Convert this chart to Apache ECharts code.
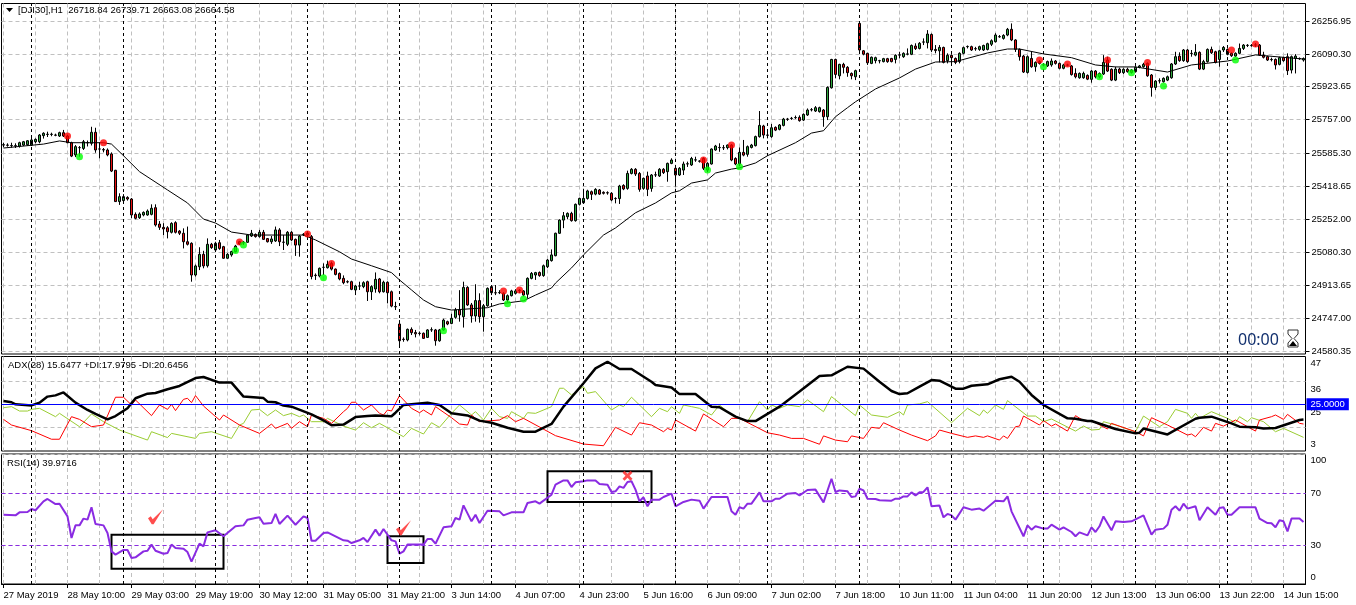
<!DOCTYPE html>
<html><head><meta charset="utf-8">
<style>html,body{margin:0;padding:0;background:#fff}#c{width:1356px;height:605px}</style>
<script src="https://cdn.jsdelivr.net/npm/echarts@6/dist/echarts.min.js"></script>
</head><body><div id="c"></div>
<script>
const tickLabels=['27 May 2019','28 May 10:00','29 May 03:00','29 May 19:00','30 May 12:00','31 May 05:00','31 May 21:00','3 Jun 14:00','4 Jun 07:00','4 Jun 23:00','5 Jun 16:00','6 Jun 09:00','7 Jun 02:00','7 Jun 18:00','10 Jun 11:00','11 Jun 04:00','11 Jun 20:00','12 Jun 13:00','13 Jun 06:00','13 Jun 22:00','14 Jun 15:00'];
const priceTicks=[26256.95,26090.30,25923.65,25757.00,25585.30,25418.65,25252.00,25080.30,24913.65,24747.00,24580.35];
const adxTicks=[47,36,25,14,3];
const rsiTicks=[100,70,30,0];
const daySeparators=[7,30,53,76,99,122,145,168,191,214,237,260,283,306];
// open, close, low, high
const candles=[
[25627,25629,25616,25639],[25627,25626,25619,25636],[25624,25625,25614,25639],[25622,25624,25612,25636],[25622,25639,25614,25644],[25627,25644,25622,25648],[25629,25649,25624,25652],[25627,25653,25622,25678],[25644,25656,25636,25661],[25644,25678,25636,25683],
[25675,25687,25660,25692],[25681,25682,25668,25695],[25681,25682,25672,25690],[25678,25677,25672,25685],[25673,25690,25668,25695],[25690,25673,25668,25704],[25673,25639,25636,25680],[25639,25571,25566,25644],[25577,25619,25566,25627],[25614,25614,25568,25622],
[25610,25644,25602,25653],[25638,25640,25620,25650],[25636,25692,25625,25720],[25692,25602,25588,25715],[25607,25607,25560,25640],[25604,25602,25590,25612],[25602,25577,25570,25610],[25582,25495,25490,25590],[25499,25340,25338,25501],[25340,25365,25323,25382],
[25345,25365,25338,25378],[25361,25353,25345,25367],[25353,25272,25255,25358],[25275,25255,25250,25285],[25258,25277,25252,25285],[25272,25285,25265,25290],[25272,25292,25268,25300],[25275,25306,25270,25326],[25309,25221,25213,25326],[25226,25209,25196,25241],
[25209,25201,25170,25230],[25207,25187,25153,25215],[25184,25229,25178,25235],[25233,25184,25178,25240],[25190,25179,25170,25195],[25179,25136,25102,25204],[25136,25123,25117,25213],[25128,24967,24933,25133],[24967,25013,24959,25020],[25009,25072,24992,25108],
[25072,25013,25001,25090],[25014,25123,25005,25153],[25123,25106,25100,25130],[25094,25128,25086,25136],[25131,25102,25095,25145],[25111,25052,25050,25115],[25052,25072,25050,25078],[25069,25086,25060,25090],[25086,25114,25082,25120],[25125,25136,25120,25140],
[25130,25133,25120,25140],[25133,25170,25130,25175],[25165,25179,25160,25196],[25173,25162,25157,25178],[25162,25184,25157,25196],[25184,25148,25145,25196],[25152,25136,25132,25155],[25136,25150,25125,25165],[25140,25196,25135,25213],[25196,25136,25114,25205],
[25134,25133,25094,25170],[25123,25184,25114,25190],[25184,25145,25140,25190],[25148,25119,25064,25152],[25119,25165,25060,25170],[25172,25174,25165,25180],[25170,25180,25165,25185],[25162,24959,24945,25170],[24966,24964,24942,24975],[24962,25001,24955,25005],
[25006,25006,24967,25026],[25004,25021,25000,25040],[25026,24997,24990,25035],[24997,24970,24965,25000],[24975,24947,24940,24980],
[24950,24928,24920,24965],[24933,24932,24925,24940],[24933,24894,24890,24938],[24891,24911,24865,24916],[24911,24911,24891,24933],[24908,24928,24900,24935],[24933,24882,24835,24938],[24882,24908,24840,24915],[24896,24945,24877,24980],[24947,24882,24874,24952],
[24882,24930,24878,24938],[24930,24877,24823,24935],[24882,24809,24803,24888],[24807,24805,24789,24831],[24718,24633,24603,24738],[24641,24639,24628,24650],[24637,24691,24630,24695],[24691,24674,24662,24701],[24675,24668,24650,24688],[24671,24670,24660,24680],
[24671,24645,24642,24675],[24650,24688,24647,24692],[24688,24689,24678,24701],[24688,24633,24608,24693],[24633,24688,24628,24693],[24688,24738,24684,24745],[24730,24718,24712,24735],[24721,24747,24717,24770],[24752,24789,24745,24800],[24789,24764,24730,24890],
[24755,24904,24700,24933],[24904,24815,24810,24910],[24815,24759,24725,24825],[24759,24837,24730,24920],[24837,24755,24725,24874],[24755,24811,24679,24820],[24811,24899,24806,24904],[24908,24877,24865,24916],[24877,24876,24865,24916],[24877,24878,24870,24890],
[24874,24840,24835,24880],[24840,24862,24830,24868],[24862,24886,24858,24892],[24874,24886,24868,24895],[24888,24890,24875,24895],[24886,24865,24858,24890],[24869,24950,24848,24955],[24950,24975,24945,24982],[24967,24979,24942,24983],[24980,24964,24958,24985],
[24964,25014,24958,25020],[25009,25043,25002,25048],[25040,25069,25035,25097],[25065,25179,25062,25182],[25179,25246,25176,25250],[25246,25268,25205,25287],[25263,25280,25250,25285],[25280,25243,25238,25288],[25243,25326,25238,25330],[25326,25356,25320,25360],
[25334,25356,25328,25405],[25356,25394,25350,25400],[25390,25377,25348,25396],[25378,25402,25372,25408],[25399,25378,25374,25404],[25387,25382,25376,25392],[25385,25384,25375,25392],[25382,25348,25342,25388],[25356,25355,25331,25362],[25355,25419,25328,25425],
[25422,25404,25398,25428],[25407,25483,25400,25497],[25483,25504,25478,25510],[25504,25480,25470,25510],[25483,25402,25390,25490],[25407,25458,25400,25462],[25470,25402,25368,25492],[25407,25475,25390,25480],[25475,25476,25465,25492],[25470,25504,25465,25510],
[25504,25487,25480,25510],[25492,25534,25441,25538],[25534,25551,25530,25560],[25509,25475,25416,25515],[25475,25509,25470,25515],
[25500,25531,25475,25543],[25531,25532,25516,25543],[25526,25559,25521,25567],[25551,25552,25542,25568],[25546,25545,25538,25550],[25559,25509,25500,25565],[25500,25534,25490,25540],[25531,25607,25528,25610],[25602,25622,25598,25628],[25614,25615,25593,25636],
[25614,25613,25602,25627],[25614,25627,25605,25630],[25627,25551,25545,25632],[25559,25531,25525,25565],[25531,25590,25520,25615],[25590,25576,25570,25653],[25580,25619,25568,25625],[25615,25627,25610,25633],[25624,25670,25620,25675],[25670,25727,25665,25800],
[25724,25678,25661,25730],[25678,25677,25661,25695],[25670,25715,25664,25734],[25717,25703,25698,25722],[25707,25729,25702,25734],[25727,25759,25722,25765],[25759,25758,25750,25765],[25763,25762,25755,25770],[25766,25767,25760,25777],[25768,25751,25746,25778],
[25754,25783,25749,25788],[25780,25805,25775,25813],[25807,25806,25798,25815],[25800,25817,25795,25825],[25797,25817,25792,25822],[25805,25771,25720,25810],[25771,25920,25754,25925],[25918,26062,25914,26065],[26062,25986,25966,26066],[25979,26037,25961,26040],
[26037,26022,25991,26045],[26022,25995,25974,26028],[25991,25979,25961,25996],[25974,26005,25957,26010],[26245,26110,26100,26249],[26106,26089,26083,26110],[26093,26045,26034,26096],[26042,26073,26038,26077],[26056,26071,26042,26076],[26056,26055,26042,26060],
[26051,26066,26047,26070],[26066,26051,26045,26070],[26067,26051,26047,26070],[26062,26083,26042,26088],[26084,26085,26067,26101],[26076,26093,26070,26098],[26089,26090,26083,26118],[26088,26133,26084,26138],[26130,26117,26110,26144],[26118,26144,26113,26150],
[26150,26151,26135,26169],[26147,26191,26118,26211],[26189,26110,26100,26194],[26113,26107,26093,26135],[26106,26123,26047,26135],[26123,26047,26042,26127],[26056,26083,26042,26093],[26083,26071,26042,26088],[26067,26047,26038,26072],[26051,26093,26042,26098],
[26093,26122,26088,26127],[26127,26128,26118,26133],[26127,26110,26105,26132],[26117,26116,26106,26126],[26113,26127,26106,26132],[26110,26133,26105,26137],[26113,26142,26108,26147],[26139,26157,26130,26164],[26152,26186,26148,26195],[26177,26178,26172,26186],
[26169,26184,26163,26190],[26186,26215,26180,26222],[26215,26161,26155,26245],[26161,26113,26100,26165],[26113,26076,26056,26118],
[26079,25998,25993,26085],[25996,26076,25990,26082],[26067,26025,26020,26101],[26025,26047,26000,26052],[26051,26042,26036,26058],[26034,26035,26027,26042],[26029,26051,26024,26056],[26034,26054,26025,26067],[26054,26042,26036,26059],[26042,26017,26012,26046],
[26017,26034,26012,26040],[26034,26033,26027,26040],[26029,25985,25980,26034],[25991,25974,25966,26017],[25969,25991,25964,25996],[25969,25991,25964,26000],[25981,25962,25957,25986],[25961,26003,25944,26008],[26003,25974,25966,26008],[25974,25991,25966,25996],
[25988,26047,25983,26084],[26059,26003,25998,26076],[26012,25957,25952,26017],[25957,26013,25952,26025],[26013,25995,25988,26020],[25995,26012,25988,26017],[26012,26000,25995,26020],[26008,25996,25990,26013],[26000,26022,25995,26027],[26022,26029,26017,26034],
[26025,26037,26020,26045],[26042,25979,25974,26047],[25983,25920,25873,25988],[25920,25952,25907,25957],[25954,25953,25940,25966],[25949,25966,25944,25971],[25957,25974,25952,25980],[25969,26039,25964,26044],[26039,26076,26034,26101],[26079,26056,26050,26098],
[26056,26110,26050,26115],[26110,26051,26045,26115],[26093,26092,26076,26110],[26084,26098,26078,26140],[26098,26013,26008,26103],[26013,26051,26008,26060],[26051,26113,26046,26118],[26113,26096,26090,26127],[26101,26047,26042,26106],[26062,26106,26025,26111],
[26110,26123,26100,26130],[26113,26088,26083,26118],[26093,26081,26075,26098],[26079,26093,26074,26098],[26093,26118,26088,26143],[26118,26135,26110,26140],[26133,26134,26125,26140],[26133,26132,26127,26140],[26135,26136,26125,26145],[26135,26084,26080,26140],
[26084,26073,26067,26101],[26076,26059,26054,26081],[26062,26061,26052,26071],[26062,26034,26011,26067],[26037,26071,26032,26076],[26071,26056,26050,26076],[26076,26005,25983,26093],[26008,26076,25991,26082],[26067,26079,25991,26089],[26067,26066,26060,26072],
[26059,26067,26051,26072]];
// [bar index, value]
const maPoints=[[0,25612],[10,25632],[14,25648],[17,25639],[25,25639],[27,25632],[30,25573],[34,25492],[41,25399],[46,25333],[50,25251],[53,25231],[57,25185],[62,25170],[75,25170],[78,25145],[84,25085],[87,25048],[92,25014],[97,24979],[99,24942],[102,24891],[105,24840],[108,24806],[112,24789],[121,24801],[124,24820],[130,24836],[133,24865],[137,24901],[138,24926],[142,25003],[145,25069],[150,25170],[153,25206],[158,25283],[163,25333],[167,25384],[169,25395],[172,25434],[176,25450],[178,25485],[182,25505],[184,25511],[188,25536],[191,25573],[198,25639],[202,25688],[205,25700],[208,25771],[211,25817],[213,25847],[218,25912],[224,25968],[228,26013],[233,26049],[238,26051],[246,26095],[251,26115],[254,26115],[260,26090],[267,26071],[273,26034],[278,26024],[283,26024],[291,25998],[297,26034],[306,26054],[313,26085],[325,26064]];
const adxPoints=[[0,26.6],[2,26.0],[3,25.0],[7,24.5],[9,25.8],[11,28.7],[13,29.3],[15,30.7],[18,25.8],[21,22.3],[23,20.4],[26,17.8],[28,19.4],[31,23.1],[33,27.9],[36,30.1],[38,30.4],[41,32.2],[44,33.8],[48,37.6],[50,38.1],[54,35.4],[57,35.4],[60,28.7],[65,28.0],[66,26.3],[68,26.0],[70,24.4],[72,23.9],[77,20.2],[80,17.3],[82,15.0],[85,15.3],[88,18.9],[91,19.4],[93,19.7],[97,19.3],[98,21.0],[100,24.7],[106,25.8],[109,24.7],[112,20.7],[116,19.7],[119,17.2],[122,16.2],[126,13.8],[130,11.9],[133,11.9],[137,15.6],[140,23.9],[145,35.1],[148,42.2],[151,45.4],[154,41.9],[157,41.9],[162,35.8],[163,34.3],[167,33.1],[169,29.9],[173,29.9],[177,23.9],[179,23.6],[183,19.1],[186,17.0],[188,17.0],[194,23.9],[199,31.1],[204,38.6],[207,38.9],[211,43.0],[215,42.1],[219,35.8],[222,31.4],[224,29.9],[226,30.3],[229,33.5],[232,36.6],[234,36.3],[238,32.5],[240,32.5],[242,33.9],[246,34.6],[249,37.0],[252,38.2],[254,35.8],[257,29.5],[260,24.7],[266,18.3],[268,18.1],[271,17.0],[272,17.0],[278,13.2],[283,11.1],[284,11.4],[285,13.4],[291,10.6],[298,18.1],[299,18.6],[302,19.1],[307,15.9],[309,14.3],[313,14.0],[315,13.4],[318,13.7],[324,17.5],[325,17.7]];
const plusDiPoints=[[0,23.4],[2,23.9],[4,21.8],[6,21.8],[7,22.6],[9,23.1],[13,19.1],[14,20.7],[19,14.3],[22,20.4],[25,16.7],[29,12.7],[36,7.9],[37,11.9],[41,9.1],[42,11.1],[48,8.7],[49,11.1],[52,11.9],[57,8.7],[59,15.1],[60,15.9],[62,22.3],[64,22.6],[66,19.6],[68,22.3],[70,19.6],[72,20.7],[74,19.1],[75,19.9],[77,16.7],[80,16.7],[81,18.3],[85,14.6],[88,12.7],[90,16.2],[92,13.8],[94,15.9],[100,9.5],[102,13.5],[105,10.8],[107,16.2],[109,14.0],[112,20.7],[114,24.7],[117,19.9],[118,21.5],[120,17.5],[122,23.1],[124,19.1],[126,18.3],[127,21.5],[130,18.3],[131,21.0],[133,20.7],[136,23.1],[137,23.9],[139,32.7],[140,32.7],[142,29.5],[145,33.5],[146,30.3],[148,31.1],[152,22.3],[154,24.7],[155,23.9],[157,28.4],[162,19.1],[164,23.1],[166,21.5],[167,23.9],[169,20.7],[170,24.7],[172,23.9],[174,23.1],[177,19.9],[179,24.7],[182,19.9],[186,16.7],[189,26.3],[191,22.3],[192,24.7],[194,23.1],[196,24.7],[199,23.9],[201,27.1],[205,21.5],[207,28.7],[213,19.6],[214,24.7],[217,19.9],[221,18.8],[224,21.5],[225,19.9],[226,24.7],[229,25.2],[231,26.3],[237,16.2],[241,23.1],[244,19.6],[245,22.3],[246,20.7],[248,24.7],[250,22.6],[251,26.8],[256,19.4],[258,19.4],[260,16.7],[262,18.0],[268,12.2],[270,14.6],[272,12.7],[274,13.0],[275,16.7],[278,15.1],[283,11.9],[285,19.4],[289,14.3],[291,16.7],[293,22.6],[296,20.7],[297,18.3],[298,20.7],[299,18.3],[302,21.5],[306,18.3],[308,16.2],[309,19.1],[311,16.7],[312,18.6],[315,16.7],[318,11.9],[320,13.5],[325,9.2]];
const minusDiPoints=[[0,17.8],[2,15.1],[7,12.4],[12,8.3],[14,8.3],[17,19.1],[19,17.8],[22,14.3],[25,15.1],[28,28.4],[30,28.4],[32,24.7],[33,27.1],[37,19.6],[39,24.7],[41,22.6],[42,25.0],[43,22.0],[45,27.4],[46,27.9],[47,25.8],[48,29.2],[50,24.2],[54,17.5],[55,19.9],[59,15.1],[64,11.1],[67,15.6],[68,13.5],[71,15.9],[72,13.5],[74,16.7],[76,14.3],[77,19.9],[80,18.3],[82,15.9],[85,21.5],[86,23.1],[87,26.0],[88,26.0],[90,22.3],[92,24.7],[94,20.7],[95,19.9],[96,22.3],[97,21.8],[99,29.2],[102,23.1],[104,21.0],[105,22.3],[107,19.9],[108,23.9],[112,18.6],[114,15.6],[116,15.1],[117,19.9],[119,16.7],[124,17.5],[126,19.6],[128,16.7],[130,18.3],[138,10.0],[145,6.0],[150,5.2],[153,14.0],[157,10.3],[159,16.2],[162,15.1],[165,11.9],[166,13.5],[167,12.7],[168,17.5],[173,12.2],[175,20.4],[180,14.3],[182,18.3],[184,18.3],[191,11.4],[194,10.3],[197,8.7],[200,8.7],[204,5.9],[205,9.9],[208,7.9],[211,7.1],[212,9.9],[215,8.7],[217,14.0],[219,13.5],[220,16.2],[224,12.7],[227,10.3],[231,7.6],[233,9.9],[234,12.7],[237,11.1],[241,9.2],[243,9.9],[245,9.2],[246,9.9],[249,7.9],[250,9.9],[251,8.7],[253,14.3],[254,14.6],[255,19.4],[259,15.1],[260,17.2],[262,14.6],[263,15.6],[266,12.2],[268,19.6],[270,17.2],[272,17.2],[276,13.2],[277,15.9],[283,11.9],[285,9.9],[287,18.6],[291,15.1],[296,10.3],[297,10.8],[298,9.5],[300,14.0],[302,12.2],[303,15.9],[305,14.6],[308,17.5],[313,12.2],[314,17.5],[317,19.1],[318,19.9],[320,17.8],[321,20.2],[324,15.9],[325,15.6]];
const rsiPoints=[[0,53.3],[3,52.8],[4,55.1],[6,55.4],[7,57.7],[8,56.7],[10,63.6],[11,65.4],[13,61.5],[14,61.8],[16,52.0],[17,35.4],[18,45.1],[19,45.1],[20,50.3],[21,49.5],[22,59.0],[23,46.2],[25,45.1],[26,39.2],[27,25.1],[28,22.6],[30,26.2],[31,26.2],[32,20.0],[33,20.5],[35,25.1],[36,25.6],[37,30.3],[38,25.6],[40,23.3],[41,23.8],[42,30.3],[43,27.7],[45,27.2],[46,24.6],[47,17.2],[49,31.0],[50,29.0],[51,39.7],[53,41.3],[55,36.7],[58,44.4],[60,45.1],[61,49.5],[63,50.8],[64,51.3],[65,46.4],[67,46.9],[68,53.9],[69,46.2],[71,52.6],[73,45.6],[75,52.0],[76,50.8],[77,33.3],[78,33.3],[80,39.2],[81,39.7],[85,33.6],[86,33.3],[87,31.5],[89,33.6],[90,35.4],[91,32.3],[93,41.8],[94,37.2],[95,42.3],[97,33.6],[98,32.8],[99,23.3],[100,25.1],[101,30.3],[105,30.3],[106,34.6],[107,34.6],[108,31.0],[110,43.6],[112,44.4],[113,50.8],[114,49.5],[115,60.5],[117,48.2],[118,53.3],[119,46.9],[121,56.4],[124,55.9],[125,52.8],[127,55.1],[130,55.1],[131,62.3],[133,63.6],[134,61.8],[137,68.7],[138,76.4],[140,79.7],[141,79.7],[142,74.6],[143,78.2],[145,79.0],[146,79.7],[148,79.7],[149,76.9],[151,76.4],[152,70.8],[153,71.3],[154,75.1],[155,73.9],[156,78.5],[157,79.0],[158,72.6],[159,63.6],[160,66.7],[161,59.8],[162,64.9],[164,64.9],[165,66.9],[167,69.5],[168,59.8],[170,63.1],[172,64.9],[174,64.1],[175,58.0],[177,66.9],[181,66.9],[182,55.9],[183,53.3],[184,59.0],[185,58.0],[186,61.8],[187,61.8],[189,70.5],[190,63.6],[192,63.6],[193,65.6],[194,65.6],[196,69.5],[198,70.0],[199,68.2],[201,72.3],[203,72.6],[205,62.8],[207,81.0],[208,70.8],[209,72.0],[211,71.3],[212,66.9],[213,67.4],[214,73.3],[215,72.0],[216,65.6],[218,65.4],[219,64.4],[222,64.1],[223,65.6],[224,65.6],[225,67.4],[226,67.4],[227,70.5],[228,68.2],[229,70.5],[230,70.8],[231,74.4],[232,59.8],[234,60.3],[235,51.3],[236,53.9],[237,52.8],[238,49.5],[240,59.0],[242,57.2],[244,58.0],[245,56.4],[248,64.1],[250,63.6],[251,67.4],[252,55.9],[255,36.7],[256,45.1],[257,41.8],[258,44.4],[260,42.6],[261,42.6],[262,45.6],[264,41.8],[265,43.6],[267,40.0],[268,36.7],[269,39.7],[271,37.4],[272,43.6],[273,40.0],[274,44.4],[275,52.0],[277,41.3],[278,48.2],[280,47.7],[282,48.2],[285,52.8],[287,37.9],[288,41.8],[290,42.6],[291,45.6],[292,57.2],[293,59.8],[294,56.4],[295,61.8],[296,58.0],[298,59.8],[299,49.0],[301,59.0],[303,53.3],[304,58.5],[305,59.0],[306,53.3],[307,53.3],[309,59.0],[313,59.0],[314,50.3],[316,46.9],[317,46.7],[318,43.6],[319,49.0],[320,48.2],[321,40.5],[322,50.3],[324,50.3],[325,47.7]];
const sellDots=[[16,25673],[25,25639],[59,25135],[76,25175],[82,25025],[125,24886],[129,24891],[175,25551],[182,25627],[259,26059],[266,26039],[276,26059],[286,26047],[307,26110],[313,26140]];
const buyDots=[[19,25568],[58,25091],[60,25119],[80,24953],[110,24684],[126,24821],[130,24845],[176,25500],[184,25517],[260,26025],[274,25974],[282,25995],[290,25927],[308,26059]];
const rsiBoxes=[[27,37.9,55,11.8],[96,36.7,105,16.2],[136,86.7,162,63.1]];
const checkNotes=[[38,51.8],[100,43.3]];
const crossNotes=[[156,83.3]];

const FONT='"Liberation Sans",sans-serif';
const FS=9.5;
const categories=candles.map((_,i)=>i%16===0?tickLabels[i/16]:String(i));
const grayDash={color:'#c0c0c0',type:[4,3],width:1};
const sepLines=daySeparators.map(i=>({xAxis:i,lineStyle:{color:'#000',type:[3,3],width:1},label:{show:false}}));
const LEFT=1.5,WIDTH=1304;
function xAx(idx,labels){return{type:'category',gridIndex:idx,data:categories,boundaryGap:true,
  axisLine:{show:labels,lineStyle:{color:'#000'}},
  axisTick:{show:labels,alignWithLabel:true,length:4,interval:i=>i%16===0,lineStyle:{color:'#000'}},
  axisLabel:{show:labels,interval:0,align:'left',margin:6,fontFamily:FONT,fontSize:FS,color:'#000',formatter:(v,i)=>i%16===0?v:''},
  splitLine:{show:true,alignWithLabel:true,interval:i=>i%8===0,lineStyle:grayDash}};}
const axisText={fontFamily:FONT,fontSize:FS,color:'#000',showMinLabel:true,showMaxLabel:true};
const adxRich={l47:{padding:[9,0,0,0]},l36:{padding:[16,0,0,0]},l25:{padding:[16,0,0,0]},l14:{padding:[16,0,0,0]},l3:{padding:[0,0,12,0]}};
const rsiRich={l100:{padding:[13,0,0,0]},l70:{},l30:{},l0:{padding:[0,0,13,0]}};
const gridBase={left:LEFT,width:WIDTH,show:true,borderColor:'#000',borderWidth:1,outerBoundsMode:'none'};
const option={animation:false,backgroundColor:'#fff',
 grid:[{...gridBase,top:3.5,height:350.5},{...gridBase,top:356.5,height:94.5},{...gridBase,top:454,height:130}],
 xAxis:[xAx(0,false),xAx(1,false),xAx(2,true)],
 yAxis:[
  {type:'value',gridIndex:0,position:'right',min:24565.7,max:26346.2,
   axisLine:{show:false},axisTick:{show:true,length:4,customValues:priceTicks,lineStyle:{color:'#000'}},
   axisLabel:{...axisText,customValues:priceTicks,margin:6,formatter:v=>v.toFixed(2)},splitLine:{show:true,lineStyle:grayDash}},
  {type:'value',gridIndex:1,position:'right',min:2.67,max:47.9,
   axisLine:{show:false},axisTick:{show:false,customValues:[36,14]},
   axisLabel:{...axisText,customValues:adxTicks,margin:5,rich:adxRich,formatter:v=>`{l${v}|${v}}`},splitLine:{show:true,lineStyle:grayDash}},
  {type:'value',gridIndex:2,position:'right',min:0,max:100,
   axisLine:{show:false},axisTick:{show:false,customValues:rsiTicks},
   axisLabel:{...axisText,customValues:rsiTicks,margin:5,rich:rsiRich,formatter:v=>`{l${v}|${v}}`},splitLine:{show:true,lineStyle:grayDash}}],
 series:[
  {type:'candlestick',xAxisIndex:0,yAxisIndex:0,data:candles,barWidth:2,z:3,
   itemStyle:{color:'#2EA83E',color0:'#E81010',borderColor:'#000',borderColor0:'#000',borderWidth:1}},
  {type:'line',xAxisIndex:0,yAxisIndex:0,data:maPoints,showSymbol:false,z:4,lineStyle:{color:'#000',width:1},
   markLine:{silent:true,symbol:'none',animation:false,data:sepLines}},
  {type:'scatter',xAxisIndex:0,yAxisIndex:0,data:sellDots,symbolSize:7,z:5,itemStyle:{color:'#ff0000'}},
  {type:'scatter',xAxisIndex:0,yAxisIndex:0,data:buyDots,symbolSize:7,z:5,itemStyle:{color:'#00ff00'}},
  {type:'line',xAxisIndex:1,yAxisIndex:1,data:plusDiPoints,showSymbol:false,z:3,lineStyle:{color:'#9ACD32',width:1}},
  {type:'line',xAxisIndex:1,yAxisIndex:1,data:minusDiPoints,showSymbol:false,z:3,lineStyle:{color:'#ff0000',width:1}},
  {type:'line',xAxisIndex:1,yAxisIndex:1,data:adxPoints,showSymbol:false,z:4,lineStyle:{color:'#000',width:2.5},
   markLine:{silent:true,symbol:'none',animation:false,data:[...sepLines,
     {yAxis:25,lineStyle:{color:'#0000ff',type:'solid',width:1},
      label:{show:true,position:'end',distance:1,formatter:'25.0000',color:'#fff',backgroundColor:'#0000ff',padding:[1,4,1,4],lineHeight:10,fontFamily:FONT,fontSize:FS}}]}},
  {type:'line',xAxisIndex:2,yAxisIndex:2,data:rsiPoints,showSymbol:false,z:3,lineStyle:{color:'#8A2BE2',width:2},
   markLine:{silent:true,symbol:'none',animation:false,data:[...sepLines,
     {yAxis:70,lineStyle:{color:'#8A2BE2',type:[4,3],width:1},label:{show:false}},
     {yAxis:30,lineStyle:{color:'#8A2BE2',type:[4,3],width:1},label:{show:false}}]},
   markArea:{silent:true,animation:false,itemStyle:{color:'rgba(0,0,0,0)',borderColor:'#000',borderWidth:2},
     data:rsiBoxes.map(b=>[{xAxis:b[0],yAxis:b[1]},{xAxis:b[2],yAxis:b[3]}])}},
  {type:'scatter',xAxisIndex:2,yAxisIndex:2,data:checkNotes,z:6,symbol:'path://M0,9 L3,7 L5,10 L16,0 L6,15 L4,15 Z',symbolSize:[15,15],itemStyle:{color:'#ff2020'}},
  {type:'scatter',xAxisIndex:2,yAxisIndex:2,data:crossNotes,z:6,symbol:'path://M0,2 L2,0 L5,3 L8,0 L10,2 L7,5 L10,8 L8,10 L5,7 L2,10 L0,8 L3,5 Z',symbolSize:[10,10],itemStyle:{color:'#ff2020'}}
 ],
 graphic:[
  {type:'polygon',shape:{points:[[6,8],[13,8],[9.5,12]]},style:{fill:'#000'},z:10},
  {type:'text',x:18,y:5,style:{text:'[DJI30],H1  26718.84 26739.71 26663.08 26664.58',font:FS+'px '+FONT,fill:'#000'},z:10},
  {type:'text',x:8,y:360,style:{text:'ADX(28) 15.6477 +DI:17.9795 -DI:20.6456',font:FS+'px '+FONT,fill:'#000'},z:10},
  {type:'text',x:7,y:458,style:{text:'RSI(14) 39.9716',font:FS+'px '+FONT,fill:'#000'},z:10},
  {type:'text',x:1238,y:332,style:{text:'00:00',font:'16px "Noto Sans", sans-serif',fill:'#12306e'},z:10},
  {type:'polygon',shape:{points:[[1288,330],[1298,330],[1298,334],[1294,338.5],[1298,343],[1298,347],[1288,347],[1288,343],[1292,338.5],[1288,334]]},style:{fill:'#fff',stroke:'#333',lineWidth:1},z:10},
  {type:'polygon',shape:{points:[[1289,346],[1297,346],[1293,341]]},style:{fill:'#000'},z:11}
 ]};
echarts.init(document.getElementById('c'),null,{renderer:'canvas'}).setOption(option);
</script></body></html>
